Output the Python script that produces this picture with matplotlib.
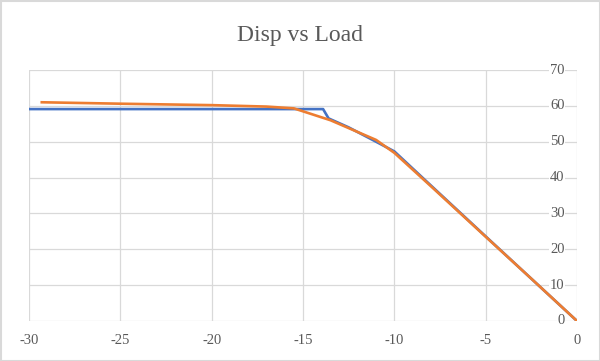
import matplotlib
matplotlib.use("Agg")
import matplotlib.pyplot as plt
from matplotlib.patches import Rectangle
import matplotlib.transforms as mtransforms

# Data
blue_x = [-30, -14.0, -13.9, -13.6, -12.5, -11.0, -10.0, -8.0, -5.0, -2.5, 0.0]
blue_y = [59.1, 59.1, 59.1, 56.5, 54.0, 50.0, 47.3, 37.8, 23.6, 11.8, 0.0]
orange_x = [-29.3, -25.0, -20.0, -17.0, -15.5, -13.5, -11.0, -10.0, -8.0, -5.0, -2.5, 0.0]
orange_y = [61.0, 60.6, 60.2, 59.8, 59.3, 56.0, 50.5, 46.9, 37.6, 23.5, 11.8, 0.0]
x_ticks = [-30, -25, -20, -15, -10, -5, 0]
y_ticks = [0, 10, 20, 30, 40, 50, 60, 70]
title = "Disp vs Load"

serif = ["Liberation Serif", "DejaVu Serif"]
grid_c = "#D9D9D9"
txt_c = "#595959"

fig = plt.figure(figsize=(6.0, 3.61), dpi=100)
ax = fig.add_axes([29/600, 1-321/361, 548/600, 251/361])
ax.set_xlim(-30, 0)
ax.set_ylim(0, 70)
for s in ax.spines.values():
    s.set_visible(False)
ax.set_xticks(x_ticks)
ax.set_yticks(y_ticks)
ax.grid(True, color=grid_c, linewidth=0.9)
ax.tick_params(length=0, labelleft=False, labelbottom=False)
ax.set_axisbelow(True)

ax.plot(blue_x, blue_y, color="#4472C4", linewidth=1.9, solid_joinstyle="round", zorder=3)
ax.plot(orange_x, orange_y, color="#ED7D31", linewidth=1.9, solid_joinstyle="round", zorder=4)

# y labels inside, next to right axis
for v in y_ticks:
    ax.text(-0.68, v, str(v), ha="right", va="center", family=serif, fontsize=10.5,
            color=txt_c, zorder=2,
            bbox=dict(facecolor="white", edgecolor="none", pad=0.5))

# x labels below
trans = mtransforms.blended_transform_factory(ax.transData, fig.transFigure)
for v in x_ticks:
    ax.text(v, 1-341/361, str(v), transform=trans, ha="center", va="center",
            family=serif, fontsize=10.5, color=txt_c)

fig.text(0.5, 1-35/361, title, ha="center", va="center", family=serif,
         fontsize=17, color=txt_c)

fig.patches.append(Rectangle((0.5/600, 0.5/361), 599/600, 360/361, transform=fig.transFigure,
                             fill=False, edgecolor=grid_c, linewidth=1.5))

fig.savefig("out.png", dpi=100, facecolor="white")
